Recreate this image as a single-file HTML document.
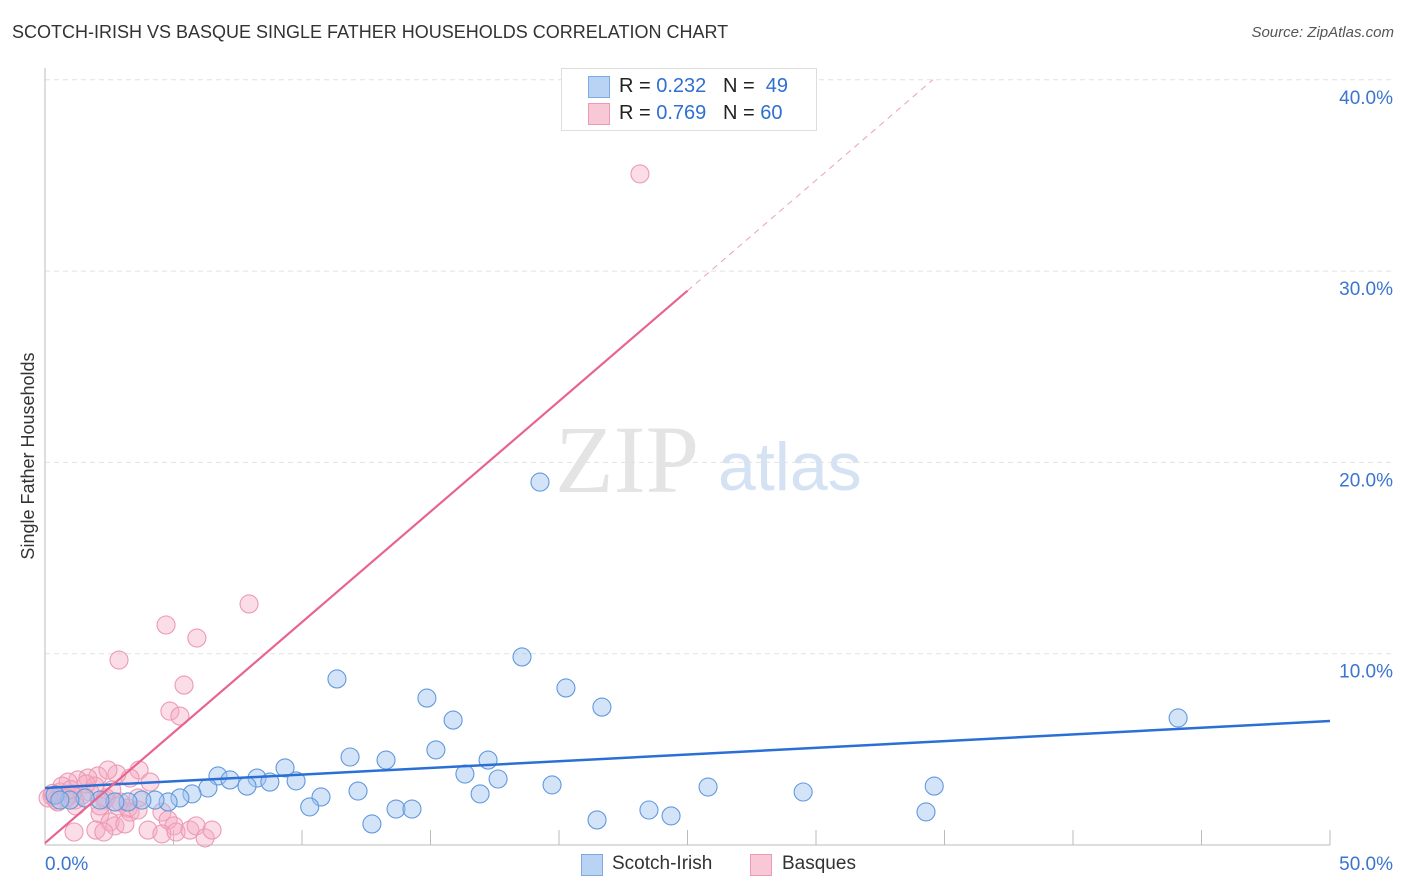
<!DOCTYPE html>
<html><head><meta charset="utf-8">
<style>
body{margin:0;background:#fff;font-family:"Liberation Sans",sans-serif;}
#wrap{position:relative;width:1406px;height:892px;overflow:hidden;}
.t{position:absolute;white-space:nowrap;}
</style></head>
<body>
<div id="wrap">
<div class="t" style="left:12px;top:22px;font-size:18px;color:#333;">SCOTCH-IRISH VS BASQUE SINGLE FATHER HOUSEHOLDS CORRELATION CHART</div>
<div class="t" style="right:12px;top:24px;font-size:15px;color:#555;font-style:italic;">Source: ZipAtlas.com</div>
<svg id="chart" width="1406" height="892" style="position:absolute;left:0;top:0">
<text x="555" y="492" font-family="Liberation Serif" font-size="96" fill="#e4e4e4">ZIP</text>
<text x="718" y="490" font-family="Liberation Sans" font-size="68" fill="#d4e2f4">atlas</text>
<g id="grid"></g><g id="pts"></g><g id="lines"></g>
<text transform="translate(34,456) rotate(-90)" text-anchor="middle" font-size="18" fill="#333">Single Father Households</text>
</svg>
<div style="position:absolute;left:561px;top:68px;width:254px;height:61px;border:1px solid #ddd;background:#fff;font-size:20px;">
 <div style="position:absolute;left:26px;top:7px;width:20px;height:20px;background:#b9d3f4;border:1px solid #7fa9e3"></div>
 <div class="t" style="left:57px;top:6px;color:#222">R = <span style="color:#2f6fd1">0.232</span>&nbsp;&nbsp;&nbsp;N = &nbsp;<span style="color:#2f6fd1">49</span></div>
 <div style="position:absolute;left:26px;top:34px;width:20px;height:20px;background:#f9c8d6;border:1px solid #eb9ab2"></div>
 <div class="t" style="left:57px;top:33px;color:#222">R = <span style="color:#2f6fd1">0.769</span>&nbsp;&nbsp;&nbsp;N = <span style="color:#2f6fd1">60</span></div>
</div>
<div>
 <div style="position:absolute;left:581px;top:854px;width:20px;height:20px;background:#b9d3f4;border:1px solid #7fa9e3"></div>
 <div class="t" style="left:612px;top:853px;font-size:19px;color:#333">Scotch-Irish</div>
 <div style="position:absolute;left:750px;top:854px;width:20px;height:20px;background:#f9c8d6;border:1px solid #eb9ab2"></div>
 <div class="t" style="left:782px;top:853px;font-size:19px;color:#333">Basques</div>
</div>
</div>
<script>
const blueX=[19.26,18.56,11.36,20.27,21.67,14.86,15.88,44.09,11.87,15.21,13.27,17.24,9.34,6.73,7.2,8.25,8.75,9.77,7.86,6.34,5.72,16.34,17.63,19.73,25.8,34.6,29.5,12.18,10.74,16.93,10.3,13.66,14.28,12.72,21.48,23.5,24.36,34.28,5.25,4.79,4.28,3.77,3.23,2.72,2.14,1.56,0.97,0.39,0.58];
const blueY=[18.97,9.83,8.68,8.21,7.21,7.68,6.53,6.64,4.6,4.97,4.44,4.44,4.03,3.61,3.4,3.5,3.29,3.35,3.08,2.98,2.67,3.71,3.45,3.14,3.03,3.08,2.77,2.82,2.51,2.67,1.99,1.88,1.88,1.1,1.31,1.83,1.52,1.73,2.46,2.25,2.35,2.35,2.25,2.25,2.35,2.46,2.35,2.61,2.35];
const pinkX=[23.15,7.94,4.71,5.91,2.88,5.41,4.86,5.25,3.66,2.8,2.06,1.67,1.28,0.9,1.95,1.75,0.58,0.27,0.12,0.43,1.17,1.44,2.33,2.92,3.23,2.14,3.31,3.62,4.55,4.79,5.02,2.53,2.72,3.11,1.98,2.29,1.13,4.01,4.55,5.1,5.64,5.88,6.23,6.5,3.62,2.6,1.05,0.66,1.6,2.37,4.09,3.31,2.45,1.2,0.5,0.82,2.14,2.84,0.3,1.0];
const pinkY=[35.08,12.6,11.5,10.82,9.67,8.36,7.0,6.74,3.92,3.71,3.61,3.5,3.4,3.29,3.08,2.77,2.77,2.56,2.46,2.35,2.35,2.61,2.35,2.25,1.93,1.62,1.72,1.83,1.72,1.31,1.0,1.2,1.0,1.1,0.78,0.68,0.68,0.78,0.58,0.68,0.78,1.0,0.37,0.78,2.46,2.88,2.67,3.08,3.19,2.46,3.29,3.5,3.92,2.04,2.25,2.46,2.04,2.04,2.7,2.9];
const blueLine=[2.98,6.48]; // y at x=0 and x=50
const pinkLine=[0.1,1.155]; // intercept, slope
const yTicks=[10,20,30,40];
const yTickLabels=["10.0%","20.0%","30.0%","40.0%"];
const xTicks=[0,5,10,15,20,25,30,35,40,45,50];
const NS="http://www.w3.org/2000/svg";
const sx=v=>45+v*25.7, sy=v=>845-v*19.13;
function mk(tag,attrs,parent){const e=document.createElementNS(NS,tag);for(const k in attrs)e.setAttribute(k,attrs[k]);parent.appendChild(e);return e;}
const grid=document.getElementById('grid'),pts=document.getElementById('pts'),lines=document.getElementById('lines'),svg=document.getElementById('chart');
yTicks.forEach((t,i)=>{
 const l=mk('line',{x1:45,x2:1395,y1:sy(t),y2:sy(t),stroke:'#e2e2e2','stroke-dasharray':'5,4'},grid);
 
 
 const tx=mk('text',{x:1393,y:sy(t)+24,'text-anchor':'end','font-size':19,fill:'#3a75d0'},svg);
 tx.textContent=yTickLabels[i];
 
 
});
xTicks.forEach(t=>{
 if(t%5===0&&t>0){const l=mk('line',{x1:sx(t),x2:sx(t),y1:830,y2:845,stroke:'#bbb'},grid);
 
 }
});
let a=mk('line',{x1:45,x2:45,y1:68,y2:845,stroke:'#bbb'},grid);


a=mk('line',{x1:45,x2:1330,y1:845,y2:845,stroke:'#bbb'},grid);


let xl=mk('text',{x:45,y:870,'font-size':19,fill:'#3a75d0'},svg);xl.textContent='0.0%';


xl=mk('text',{x:1393,y:870,'text-anchor':'end','font-size':19,fill:'#3a75d0'},svg);xl.textContent='50.0%';


pinkX.forEach((x,i)=>{const c=mk('circle',{cx:sx(x),cy:sy(pinkY[i]),r:9,fill:'rgba(246,170,195,0.4)',stroke:'#ec9ab3','stroke-width':1.1},pts);
 
 });
blueX.forEach((x,i)=>{const c=mk('circle',{cx:sx(x),cy:sy(blueY[i]),r:9,fill:'rgba(160,196,240,0.45)',stroke:'#6299dd','stroke-width':1.1},pts);
 
 });
let ln=mk('line',{x1:sx(0),y1:sy(blueLine[0]),x2:sx(50),y2:sy(blueLine[1]),stroke:'#2a6fd6','stroke-width':2.5},lines);


const xs=25, xe=(40-pinkLine[0])/pinkLine[1];
ln=mk('line',{x1:sx(0),y1:sy(pinkLine[0]),x2:sx(xs),y2:sy(pinkLine[0]+pinkLine[1]*xs),stroke:'#e8648e','stroke-width':2.2},lines);


ln=mk('line',{x1:sx(xs),y1:sy(pinkLine[0]+pinkLine[1]*xs),x2:sx(xe),y2:sy(40),stroke:'#eaa0b6','stroke-width':1,'stroke-dasharray':'6,5'},lines);


</script>
</body></html>
